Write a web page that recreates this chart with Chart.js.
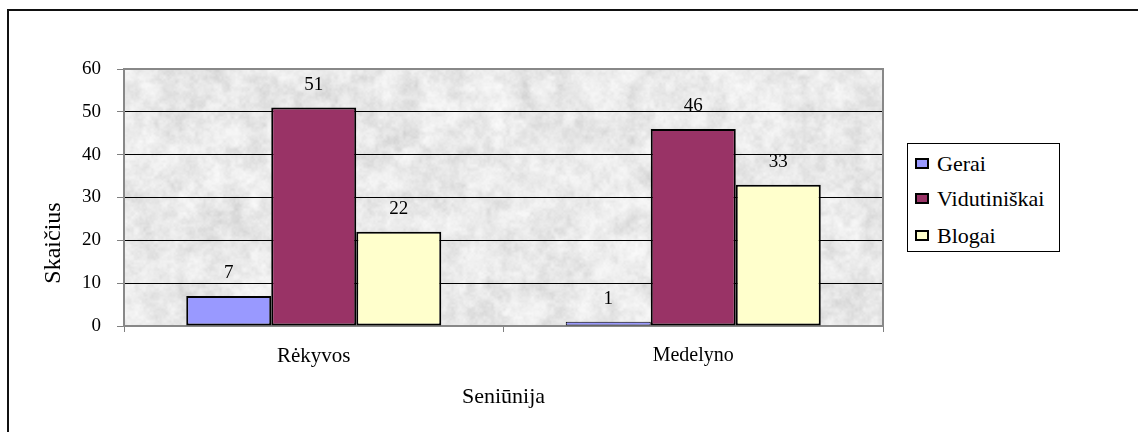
<!DOCTYPE html>
<html>
<head>
<meta charset="utf-8">
<script src="https://cdn.jsdelivr.net/npm/chart.js@4.4.1/dist/chart.umd.min.js"></script>
<style>
  html, body { margin: 0; padding: 0; background: #fff; }
  #wrap { position: relative; width: 1138px; height: 432px; overflow: hidden; }
  #frame { position: absolute; left: 7px; top: 9px; width: 1300px; height: 600px;
           border-top: 2px solid #111; border-left: 2px solid #111; }
  #chart { position: absolute; left: 0; top: 0; }
  #legend { position: absolute; left: 907px; top: 143px; width: 151px; height: 107px;
            border: 1px solid #000; background: #fff;
            font-family: 'Liberation Serif', 'Times New Roman', serif; font-size: 22px; color: #000; }
  .item { position: absolute; left: 7px; height: 26px; line-height: 26px; white-space: nowrap; }
  .sw { display: inline-block; width: 10px; height: 7px; border: 2px solid #000;
        margin-right: 8px; vertical-align: middle; position: relative; top: -2px; }
</style>
</head>
<body>
<div id="wrap">
  <div id="frame"></div>
  <canvas id="chart" width="1138" height="432"></canvas>
  <div id="legend"></div>
</div>
<script>
// Survey results per eldership (seniūnija)
const categories = ['Rėkyvos', 'Medelyno'];
const seriesNames = ['Gerai', 'Vidutiniškai', 'Blogai'];
const gerai = [7, 1];
const vidutiniskai = [51, 46];
const blogai = [22, 33];
const seriesColors = ['#9999FF', '#993366', '#FFFFCC'];
const yTicks = [0, 10, 20, 30, 40, 50, 60];
const yTitle = 'Skaičius';
const xTitle = 'Seniūnija';

const serif = "'Liberation Serif', 'Times New Roman', serif";
Chart.defaults.font.family = serif;
Chart.defaults.color = '#000';

// Light grey granite texture for the plot background (deterministic value noise)
function makeGranite(w, h) {
  const c = document.createElement('canvas');
  c.width = w; c.height = h;
  const g = c.getContext('2d');
  const img = g.createImageData(w, h);
  const hash = (x, y) => {
    const s = Math.sin(x * 127.1 + y * 311.7) * 43758.5453;
    return s - Math.floor(s);
  };
  const noise = (x, y, s) => {
    const fx = x / s, fy = y / s;
    const ix = Math.floor(fx), iy = Math.floor(fy);
    let tx = fx - ix, ty = fy - iy;
    tx = tx * tx * (3 - 2 * tx); ty = ty * ty * (3 - 2 * ty);
    const a = hash(ix, iy), b = hash(ix + 1, iy), c2 = hash(ix, iy + 1), d = hash(ix + 1, iy + 1);
    return (a * (1 - tx) + b * tx) * (1 - ty) + (c2 * (1 - tx) + d * tx) * ty;
  };
  for (let y = 0; y < h; y++) {
    for (let x = 0; x < w; x++) {
      const v = 0.35 * noise(x, y, 22) + 0.3 * noise(x + 500, y, 9) +
                0.22 * noise(x, y + 700, 4) + 0.13 * noise(x + 90, y + 40, 2);
      const gray = Math.max(0, Math.min(255, 252 - 48 * Math.pow(v, 1.4)));
      const i = (y * w + x) * 4;
      img.data[i] = img.data[i + 1] = img.data[i + 2] = gray;
      img.data[i + 3] = 255;
    }
  }
  g.putImageData(img, 0, 0);
  return c;
}

let granite = null;
const plotDecor = {
  id: 'plotDecor',
  beforeDraw(chart) {
    const a = chart.chartArea, ctx = chart.ctx;
    const w = Math.round(a.right - a.left), h = Math.round(a.bottom - a.top);
    if (!granite || granite.width !== w || granite.height !== h) granite = makeGranite(w, h);
    ctx.drawImage(granite, a.left, a.top);
  },
  beforeDatasetsDraw(chart) {
    const a = chart.chartArea, ctx = chart.ctx;
    ctx.save();
    ctx.strokeStyle = '#888';
    ctx.lineWidth = 2;
    ctx.strokeRect(a.left, a.top, a.right - a.left, a.bottom - a.top);
    ctx.restore();
  },
  afterDatasetsDraw(chart) {
    const ctx = chart.ctx;
    ctx.save();
    ctx.font = '19px ' + serif;
    ctx.fillStyle = '#000';
    ctx.textAlign = 'center';
    ctx.textBaseline = 'middle';
    chart.data.datasets.forEach((ds, di) => {
      chart.getDatasetMeta(di).data.forEach((el, i) => {
        ctx.fillText(String(ds.data[i]), el.x, el.y - 23);
      });
    });
    ctx.restore();
  },
  afterDraw(chart) {
    const a = chart.chartArea, ctx = chart.ctx;
    ctx.save();
    ctx.fillStyle = '#000';
    ctx.textAlign = 'center';
    ctx.textBaseline = 'middle';
    ctx.font = '22px ' + serif;
    ctx.fillText(xTitle, (a.left + a.right) / 2, 397);
    ctx.translate(54, 243);
    ctx.rotate(-Math.PI / 2);
    ctx.font = '24px ' + serif;
    ctx.fillText(yTitle, 0, 0);
    ctx.restore();
  }
};

const seriesData = [gerai, vidutiniskai, blogai];
const chart = new Chart(document.getElementById('chart'), {
  type: 'bar',
  data: {
    labels: categories,
    datasets: seriesNames.map((name, k) => ({
      label: name,
      data: seriesData[k],
      backgroundColor: seriesColors[k],
      borderColor: '#000',
      borderWidth: c => (c.raw !== undefined && c.raw < 3) ? 1 : 2,
      borderSkipped: false,
      categoryPercentage: 0.672,
      barPercentage: 1.0
    }))
  },
  options: {
    responsive: false,
    animation: false,
    layout: { padding: { left: 0, right: 255, top: 69, bottom: 0 } },
    plugins: { legend: { display: false }, tooltip: { enabled: false } },
    scales: {
      x: {
        offset: true,
        grid: { offset: true, drawOnChartArea: false, drawTicks: true, tickLength: 6, tickColor: '#808080' },
        border: { display: true, color: '#808080', width: 1 },
        ticks: {
          padding: 12,
          color: '#000',
          font: ctx => ({ size: ctx.index === 0 ? 21 : 20, family: serif })
        },
        afterFit: s => { s.height = 106; }
      },
      y: {
        min: 0, max: 60,
        afterBuildTicks: s => { s.ticks = yTicks.map(v => ({ value: v })); },
        grid: {
          color: c => (c.tick && (c.tick.value === 0 || c.tick.value === 60)) ? 'rgba(0,0,0,0)' : '#000',
          lineWidth: 1,
          tickLength: 7,
          tickColor: '#808080'
        },
        border: { display: true, color: '#808080', width: 1 },
        ticks: { padding: 16, color: '#000', font: { size: 19, family: serif } },
        afterFit: s => { s.width = 124; }
      }
    }
  },
  plugins: [plotDecor]
});

// Legend box
const legend = document.getElementById('legend');
const rowCenters = [20, 55, 92];
seriesNames.forEach((name, k) => {
  const item = document.createElement('div');
  item.className = 'item';
  item.style.top = (rowCenters[k] - 13) + 'px';
  const sw = document.createElement('span');
  sw.className = 'sw';
  sw.style.background = seriesColors[k];
  item.appendChild(sw);
  item.appendChild(document.createTextNode(name));
  legend.appendChild(item);
});
</script>
</body>
</html>
